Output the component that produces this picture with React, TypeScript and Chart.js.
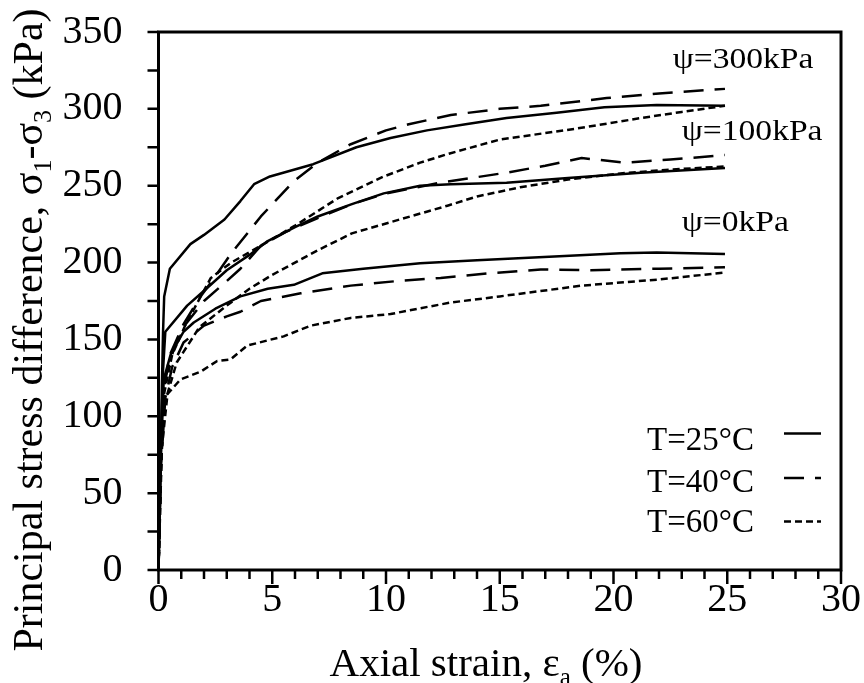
import React, { useEffect, useRef } from 'react';
import { Chart, registerables } from 'chart.js';
Chart.register(...registerables);

const FONT = '"Liberation Serif", "Times New Roman", serif';

// Axial strain (%) , principal stress difference (kPa)
const psi300_T25: [number, number][] = [[0,0],[0.08,60],[0.15,120],[0.2,155],[0.25,178],[0.5,196],[1.4,212],[2,218],[2.9,228],[3.6,240],[4.2,251],[4.9,256],[6.8,264],[8.7,275],[10.2,281],[11.8,286],[13.5,290],[15.3,294],[17.5,297.5],[19.6,301],[21.9,302.5],[24.9,302]];
const psi300_T40: [number, number][] = [[0,0],[0.1,70],[0.25,120],[0.5,140],[1.1,160],[1.85,178],[2.4,189],[3.2,206],[4.5,230],[5.95,253],[7,265],[8.45,277],[10,286],[11,290],[12.85,296],[15,300],[16.8,302],[19.7,307],[22,310],[24.9,313]];
const psi300_T60: [number, number][] = [[0,0],[0.1,70],[0.25,115],[0.6,140],[1.2,160],[2.3,190],[3.2,200],[4.5,211],[6,224],[7.9,242],[9.9,256],[11.5,265],[12.8,271],[15,280],[18.3,287],[21.2,294],[23,298],[24.9,302]];
const psi100_T25: [number, number][] = [[0,0],[0.1,80],[0.2,130],[0.3,155],[1.26,172],[2.1,183],[3,195],[4,205],[4.8,214],[6,223],[7,230],[8.5,238],[9.9,245],[11.5,250],[12.85,251],[15.3,252],[18,255],[21.2,258.5],[24.9,261.5]];
const psi100_T40: [number, number][] = [[0,0],[0.1,70],[0.3,125],[0.7,145],[1.2,160],[2,175],[3,188],[3.6,196],[4.5,211],[5.6,220],[7,229],[8.5,238],[10,245],[12.4,252],[15.3,258.5],[17,263],[18.6,268],[20.5,265],[22.5,267],[24.9,270]];
const psi100_T60: [number, number][] = [[0,0],[0.15,80],[0.4,115],[0.8,135],[1.8,158],[3,172],[4,183],[5,192],[6,200],[7,208],[8.5,219],[10.6,228],[12.7,237],[14,243],[15.9,249],[18,254],[20.3,258],[22.5,260.5],[24.9,262.5]];
const psi0_T25: [number, number][] = [[0,0],[0.1,70],[0.23,124],[0.53,140],[1.1,155],[1.55,161],[2.5,170],[3.6,178],[4.8,183],[5.95,185.5],[7.2,193],[9,196],[11.5,199.5],[14,201.5],[17.4,204],[20.3,206],[21.9,206.5],[24.9,205.5]];
const psi0_T40: [number, number][] = [[0,0],[0.1,65],[0.3,112],[0.6,132],[1.1,148],[2,159],[3,165],[3.6,168],[4.5,175],[6.25,180],[8.45,185],[10.5,188],[12.4,190],[14.5,193],[16.8,195.5],[19,195],[22,196],[24.9,197]];
const psi0_T60: [number, number][] = [[0,0],[0.1,60],[0.2,100],[0.31,113],[0.97,124],[1.85,129],[2.58,136],[3.17,137],[3.9,146],[5.5,152],[6.7,159],[8.45,164],[10.2,166.5],[11.4,170],[12.85,174],[15,178],[18.6,185],[22,189],[24.9,193.5]];

const temperatures = ['T=25°C', 'T=40°C', 'T=60°C'];
const suctionLabels = ['ψ=300kPa', 'ψ=100kPa', 'ψ=0kPa'];
// label anchor in data coords (strain, stress)
const suctionLabelPos: [number, number][] = [[22.6, 326.5], [23.0, 280], [23.0, 220.5]];

const X_MIN = 0, X_MAX = 30, X_STEP = 5, X_MINOR = 1;
const Y_MIN = 0, Y_MAX = 350, Y_STEP = 50, Y_MINOR = 25;

const DASHES: number[][] = [[], [20, 11], [7, 4]];

type Seg = { t: string; sub?: boolean };
function drawSegs(ctx: CanvasRenderingContext2D, segs: Seg[], size: number) {
  const main = `${size}px ${FONT}`;
  const subF = `${Math.round(size * 0.62)}px ${FONT}`;
  let total = 0;
  const widths = segs.map((s) => {
    ctx.font = s.sub ? subF : main;
    const w = ctx.measureText(s.t).width;
    total += w;
    return w;
  });
  let x = -total / 2;
  segs.forEach((s, i) => {
    ctx.font = s.sub ? subF : main;
    ctx.fillText(s.t, x, s.sub ? size * 0.22 : 0);
    x += widths[i];
  });
}

const decor = {
  id: 'decor',
  afterDraw(chart: any) {
    const { ctx, chartArea: a, scales } = chart;
    const xs = scales.x, ys = scales.y;
    ctx.save();
    ctx.strokeStyle = '#000';
    ctx.fillStyle = '#000';
    ctx.setLineDash([]);
    // frame
    ctx.lineWidth = 3;
    ctx.strokeRect(a.left, a.top, a.right - a.left, a.bottom - a.top);
    // ticks
    ctx.lineWidth = 2.5;
    ctx.beginPath();
    for (let v = X_MIN; v <= X_MAX + 1e-9; v += X_MINOR) {
      const p = xs.getPixelForValue(v);
      const len = v % X_STEP === 0 ? 14 : 9;
      ctx.moveTo(p, a.bottom);
      ctx.lineTo(p, a.bottom + len);
    }
    for (let v = Y_MIN; v <= Y_MAX + 1e-9; v += Y_MINOR) {
      const p = ys.getPixelForValue(v);
      ctx.moveTo(a.left, p);
      ctx.lineTo(a.left - 11, p);
    }
    ctx.stroke();

    // axis titles
    ctx.textAlign = 'left';
    ctx.textBaseline = 'alphabetic';
    ctx.save();
    ctx.translate(42, 330);
    ctx.rotate(-Math.PI / 2);
    drawSegs(ctx, [
      { t: 'Principal stress difference, σ' }, { t: '1', sub: true },
      { t: '-σ' }, { t: '3', sub: true }, { t: ' (kPa)' },
    ], 42);
    ctx.restore();
    ctx.save();
    ctx.translate(486, 676);
    drawSegs(ctx, [{ t: 'Axial strain, ε' }, { t: 'a', sub: true }, { t: ' (%)' }], 41);
    ctx.restore();

    // suction labels
    ctx.font = `30px ${FONT}`;
    suctionLabels.forEach((s, i) => {
      const px = xs.getPixelForValue(suctionLabelPos[i][0]);
      const py = ys.getPixelForValue(suctionLabelPos[i][1]);
      ctx.save();
      ctx.translate(px, py);
      ctx.scale(1.12, 1);
      ctx.fillText(s, 0, 0);
      ctx.restore();
    });

    // legend
    const textRight = a.right - 87;
    const x0 = a.right - 57, x1 = a.right - 20;
    const baselines = [450, 491.5, 531.5];
    const lineYs = [433.5, 478, 521.5];
    ctx.font = `33px ${FONT}`;
    ctx.textAlign = 'right';
    temperatures.forEach((t, i) => {
      ctx.fillText(t, textRight, baselines[i]);
      ctx.lineWidth = 2.5;
      ctx.setLineDash(DASHES[i]);
      ctx.beginPath();
      ctx.moveTo(x0, lineYs[i]);
      ctx.lineTo(x1, lineYs[i]);
      ctx.stroke();
    });
    ctx.restore();
  },
};

function ds(data: [number, number][], ti: number) {
  return {
    data: data.map(([x, y]) => ({ x, y })),
    showLine: true,
    borderColor: '#000',
    backgroundColor: '#000',
    borderWidth: 2.5,
    borderDash: DASHES[ti],
    borderCapStyle: 'butt',
    borderJoinStyle: 'round',
    pointRadius: 0,
    tension: 0,
  };
}

export default function App() {
  const ref = useRef<HTMLCanvasElement>(null);
  useEffect(() => {
    const chart = new Chart(ref.current as HTMLCanvasElement, {
      type: 'scatter',
      data: {
        datasets: [
          ds(psi300_T25, 0), ds(psi300_T40, 1), ds(psi300_T60, 2),
          ds(psi100_T25, 0), ds(psi100_T40, 1), ds(psi100_T60, 2),
          ds(psi0_T25, 0), ds(psi0_T40, 1), ds(psi0_T60, 2),
        ] as any,
      },
      options: {
        animation: false,
        responsive: false,
        maintainAspectRatio: false,
        devicePixelRatio: 1,
        layout: { padding: { left: 0, right: 23, top: 32, bottom: 0 } },
        plugins: { legend: { display: false }, tooltip: { enabled: false } },
        scales: {
          x: {
            type: 'linear', min: X_MIN, max: X_MAX,
            afterFit: (s: any) => { s.height = 113; s.paddingLeft = 0; s.paddingRight = 0; },
            ticks: { stepSize: X_STEP, font: { family: FONT, size: 40 }, color: '#000', padding: 6, maxRotation: 0 },
            grid: { display: false, drawTicks: false },
            border: { display: false },
          },
          y: {
            type: 'linear', min: Y_MIN, max: Y_MAX,
            afterFit: (s: any) => { s.width = 158.5; s.paddingTop = 0; s.paddingBottom = 0; },
            ticks: { stepSize: Y_STEP, font: { family: FONT, size: 40 }, color: '#000', padding: 36 },
            grid: { display: false, drawTicks: false },
            border: { display: false },
          },
        },
      } as any,
      plugins: [decor],
    });
    return () => chart.destroy();
  }, []);
  return (
    <div style={{ position: 'fixed', left: 0, top: 0, width: 864, height: 683, background: '#fff' }}>
      <canvas ref={ref} width={864} height={683} style={{ display: 'block' }} />
    </div>
  );
}
